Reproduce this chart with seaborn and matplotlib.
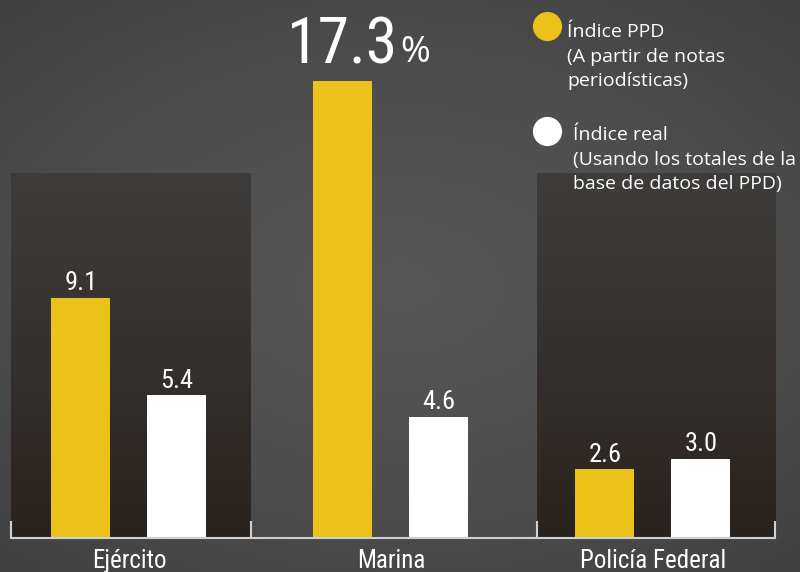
import numpy as np
import pandas as pd
import matplotlib.pyplot as plt
import seaborn as sns
from matplotlib.lines import Line2D
from matplotlib.colors import LinearSegmentedColormap
from matplotlib import font_manager

# datos
categorias = ["Ejército", "Marina", "Policía Federal"]
indice_ppd = [9.1, 17.3, 2.6]
indice_real = [5.4, 4.6, 3.0]
series = ["Índice PPD", "Índice real"]
series_sub = ["(A partir de notas\nperiodísticas)",
              "(Usando los totales de la\nbase de datos del PPD)"]

AMARILLO = "#ebc11a"
BLANCO = "#ffffff"
EJE = "#d0d0d0"

df = pd.DataFrame({
    "categoria": categorias * 2,
    "serie": [series[0]] * len(categorias) + [series[1]] * len(categorias),
    "valor": indice_ppd + indice_real,
})

sns.set_theme(style="dark")
plt.rcParams["font.family"] = ["Open Sans", "DejaVu Sans"]

# fuente angosta para numeros y categorias (la que haya instalada)
fuentes = font_manager.fontManager.ttflist
nombres = {f.name for f in fuentes}
angosta = {"family": ["Roboto", "DejaVu Sans"], "stretch": "normal"}
for nombre in ["Roboto Condensed", "Liberation Sans Narrow", "Open Sans Condensed"]:
    if nombre in nombres:
        angosta = {"family": [nombre, "DejaVu Sans"], "stretch": "normal"}
        break
else:
    if any(f.name == "DejaVu Sans" and f.stretch == "condensed" for f in fuentes):
        angosta = {"family": ["DejaVu Sans"], "stretch": "condensed"}
    elif any(f.name == "Roboto" and f.stretch == "condensed" for f in fuentes):
        angosta = {"family": ["Roboto"], "stretch": "condensed"}

fig = plt.figure(figsize=(8, 5.72), dpi=100)

# fondo gris tipo concreto (gradiente simple)
bg = fig.add_axes([0, 0, 1, 1], zorder=0)
yy, xx = np.mgrid[-1:1:120j, -1:1:170j]
r = np.sqrt((xx * 0.9) ** 2 + (yy * 1.0) ** 2)
cmap_bg = LinearSegmentedColormap.from_list("bg", ["#575757", "#4e4e4e", "#404040"])
bg.imshow(r, cmap=cmap_bg, aspect="auto", extent=[0, 1, 0, 1], vmin=0, vmax=1.4)
bg.axis("off")

# ejes principales
ax = fig.add_axes([11 / 800, 34 / 572, 764 / 800, 538 / 572], zorder=1)
ax.patch.set_alpha(0)

x_min, x_max = -0.45, 2.466
bordes = [x_min, 0.466, 1.557, x_max]
y_max = 538 / 26.4

# paneles oscuros detras de Ejército y Policía Federal
cmap_panel = LinearSegmentedColormap.from_list("panel", ["#3e3c3a", "#35312e", "#29231f"])
grad = np.linspace(0, 1, 100).reshape(-1, 1)
for x0, x1 in [(bordes[0], bordes[1]), (bordes[2], bordes[3])]:
    ax.imshow(grad, cmap=cmap_panel, aspect="auto", extent=[x0, x1, 0, 13.8],
              origin="upper", zorder=0.5)

sns.barplot(data=df, x="categoria", y="valor", hue="serie",
            palette=[AMARILLO, BLANCO], width=0.733, gap=0.385,
            saturation=1, legend=False, linewidth=0, edgecolor="none",
            ax=ax, zorder=2)

ax.set_xlim(x_min, x_max)
ax.set_ylim(0, y_max)

# etiquetas de valor
grande = None
for cont, vals in zip(ax.containers, [indice_ppd, indice_real]):
    for patch, v in zip(cont, vals):
        cx = patch.get_x() + patch.get_width() / 2
        h = patch.get_height()
        if v == max(indice_ppd):
            grande = (cx, v)
            continue
        ax.text(cx, h + 0.1, f"{v:.1f}", ha="center", va="bottom",
                fontsize=19, color="white", zorder=3, **angosta)

if grande is not None:
    t = ax.text(grande[0], 17.99, f"{grande[1]:.1f}", ha="center", va="baseline",
                fontsize=46, color="white", zorder=3, **angosta)
    ax.annotate("%", xy=(1, 0), xycoords=t, xytext=(1, 10),
                textcoords="offset points", ha="left", va="baseline",
                fontsize=26, color="white", family=["Open Sans", "DejaVu Sans"])

# eje inferior
for s in ["left", "right", "top"]:
    ax.spines[s].set_visible(False)
ax.spines["bottom"].set_visible(True)
ax.spines["bottom"].set_color(EJE)
ax.spines["bottom"].set_linewidth(1.5)
ax.set_xticks(bordes)
ax.set_xticklabels([""] * len(bordes))
ax.set_xticks(range(len(categorias)), categorias, minor=True)
ax.tick_params(axis="x", which="major", direction="in", length=12, width=1.5,
               color=EJE, bottom=True)
ax.tick_params(axis="x", which="minor", length=0, pad=8, labelsize=18,
               labelcolor="white")
for lbl in ax.get_xticklabels(minor=True):
    lbl.set_family(angosta["family"])
    lbl.set_stretch(angosta["stretch"])
ax.set_yticks([])
ax.set_xlabel("")
ax.set_ylabel("")
ax.grid(False)

# leyenda manual
leyenda = [
    (AMARILLO, 547, 26, 567, 86),
    (BLANCO, 547, 131, 573, 189),
]
for (col, mx, my, tx, ty), nombre, sub in zip(leyenda, series, series_sub):
    fig.add_artist(Line2D([mx / 800], [1 - my / 572], marker="o", markersize=20,
                          color=col, linestyle="none", transform=fig.transFigure))
    fig.text(tx / 800, 1 - ty / 572, nombre + "\n" + sub, ha="left",
             va="baseline", fontsize=14, color="white", linespacing=1.45)

fig.savefig("out.png", dpi=100)
